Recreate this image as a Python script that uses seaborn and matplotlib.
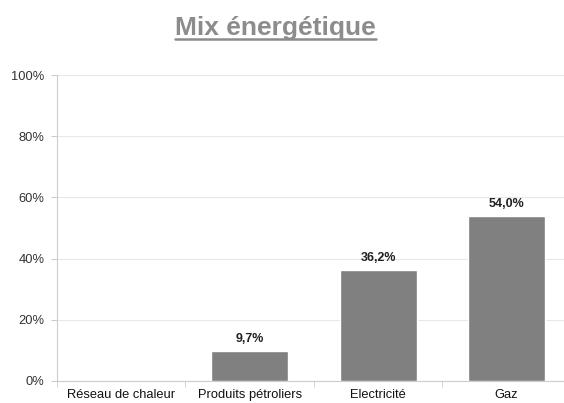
import numpy as np
import pandas as pd
import matplotlib
matplotlib.use("Agg")
import matplotlib.pyplot as plt
import seaborn as sns
from matplotlib.lines import Line2D
from matplotlib.ticker import FuncFormatter, FixedLocator

categories = ["Réseau de chaleur", "Produits pétroliers", "Electricité", "Gaz"]
values = [0.0, 9.7, 36.2, 54.0]
yticks = [0, 20, 40, 60, 80, 100]

sns.set_style("white")
plt.rcParams['font.family'] = ['Liberation Sans', 'DejaVu Sans']

df = pd.DataFrame({"cat": categories, "val": values})

fig = plt.figure(figsize=(5.64, 4.03), dpi=100)
ax = fig.add_axes([0.101, 0.0546, 0.911, 0.759])

sns.barplot(data=df, x="cat", y="val", color="#808080", saturation=1,
            width=0.6, ax=ax, zorder=3)

ax.set_ylim(0, 100)
ax.set_xlim(-0.5, 3.5)
ax.set_yticks(yticks)
ax.yaxis.set_major_formatter(FuncFormatter(lambda v, p: f"{int(v)}%"))
ax.grid(axis="y", color="#e8e8e8", linewidth=0.8, zorder=0)
ax.set_xlabel("")
ax.set_ylabel("")

for s in ["top", "right"]:
    ax.spines[s].set_visible(False)
for s in ["left", "bottom"]:
    ax.spines[s].set_color("#cccccc")
    ax.spines[s].set_linewidth(0.8)

ax.tick_params(axis="y", length=4, color="#cccccc", labelsize=9.3, pad=5,
               left=True, labelcolor="#333333")
ax.tick_params(axis="x", which="major", length=0, labelsize=9.3, pad=6,
               labelcolor="#111111")
ax.xaxis.set_minor_locator(FixedLocator(np.arange(-0.5, 4.0, 1.0)))
ax.tick_params(axis="x", which="minor", length=4, color="#cccccc", bottom=True)

for i, v in enumerate(values):
    if v > 0:
        ax.text(i, v + 2, f"{v:.1f}%".replace(".", ","), ha="center", va="bottom",
                fontsize=9, fontweight="bold", color="#222222")

t = fig.text(0.488, 0.93, "Mix énergétique", ha="center", va="center",
             fontsize=19, fontweight="bold", color="#8c8c8c")
fig.canvas.draw()
bb = t.get_window_extent().transformed(fig.transFigure.inverted())
fig.add_artist(Line2D([bb.x0, bb.x1], [bb.y0 + 0.002, bb.y0 + 0.002],
                      transform=fig.transFigure, color="#8c8c8c", linewidth=1.8))

fig.savefig("out.png", dpi=100)
